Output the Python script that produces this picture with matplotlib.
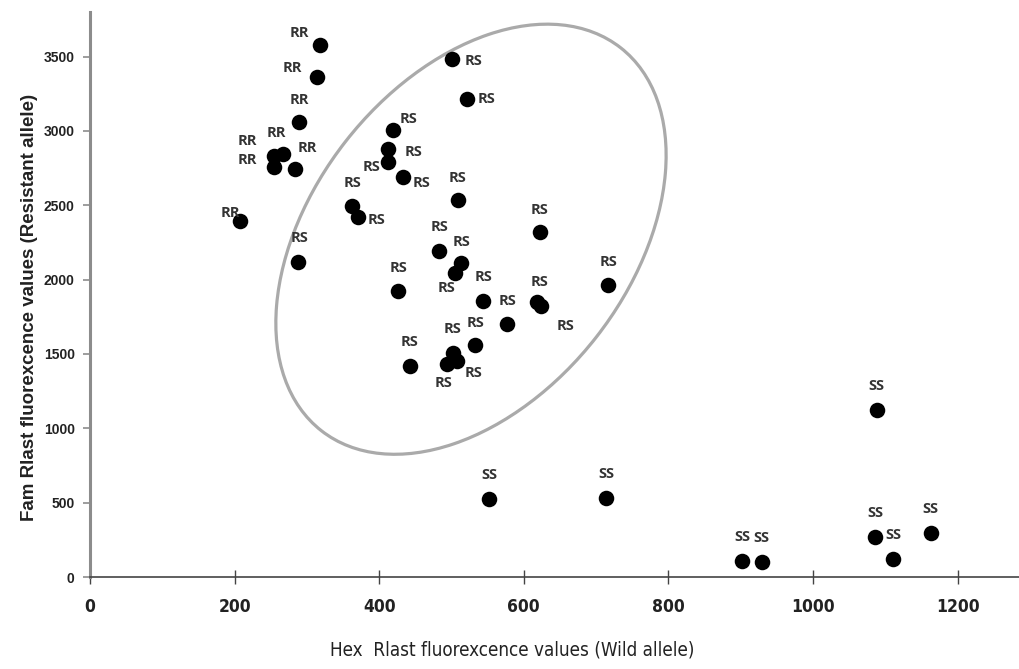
import matplotlib
matplotlib.use("Agg")
import matplotlib.pyplot as plt
import matplotlib.transforms as mtransforms
from matplotlib.patches import Ellipse

# %%
# genotype calls
rr_x = [318, 314, 289, 255, 267, 255, 284, 208]
rr_y = [3580, 3365, 3062, 2833, 2847, 2759, 2746, 2396]

rs_x = [501, 522, 419, 412, 412, 433, 509, 363, 371, 483, 513, 505, 623,
        426, 544, 619, 624, 717, 577, 533, 502, 507, 494, 442, 288]
rs_y = [3486, 3217, 3008, 2880, 2793, 2692, 2537, 2497, 2423, 2194, 2113, 2046, 2322,
        1925, 1857, 1851, 1824, 1965, 1703, 1561, 1507, 1454, 1433, 1420, 2120]

ss_x = [552, 714, 1088, 1086, 1163, 1111, 902, 929]
ss_y = [525, 532, 1124, 269, 296, 121, 108, 101]

x_ticks = [0, 200, 400, 600, 800, 1000, 1200]
y_ticks = [0, 500, 1000, 1500, 2000, 2500, 3000, 3500]

# label offsets (pixels) so the tags sit where they do in the original
rr_off = [(-21, 12), (-25, 9), (0, 22), (-27, 15), (-7, 21), (-27, 7), (12, 21), (-10, 8)]
rs_off = [(21, -2), (19, 0), (16, 11), (26, -3), (-16, -5), (18, -6), (0, 22), (0, 23),
          (18, -3), (0, 24), (1, 21), (-9, -15), (-1, 22), (1, 23), (0, 24), (2, 20),
          (24, -20), (0, 23), (0, 23), (0, 22), (0, 24), (17, -12), (-4, -19), (0, 24), (1, 24)]
ss_off = [(0, 24)] * 8

narrow = ['DejaVu Sans', 'Liberation Sans']

# %%
fig = plt.figure(figsize=(10.19, 6.69), dpi=100)
ax = fig.add_axes([0.0883, 0.1375, 0.9117, 0.8445])

groups = [(rr_x, rr_y, 'RR', rr_off), (rs_x, rs_y, 'RS', rs_off), (ss_x, ss_y, 'SS', ss_off)]
for xs, ys, tag, offs in groups:
    ax.scatter(xs, ys, s=125, color='black', zorder=3, linewidths=0)
    for x, y, o in zip(xs, ys, offs):
        ax.annotate(tag, (x, y), xytext=o, textcoords='offset pixels',
                    ha='center', va='center', fontsize=10.5, fontweight='bold',
                    color='#333333', family=['Open Sans', 'DejaVu Sans'], zorder=4)

ax.set_xlim(0, 1285)
ax.set_ylim(0, 3800)
ax.set_xticks(x_ticks)
ax.set_yticks(y_ticks)

# grey ring round the heterozygotes, sized in pixels
ring_centre = (527, 2272)
ring_tr = mtransforms.ScaledTranslation(ring_centre[0], ring_centre[1], ax.transData)
ring = Ellipse((0, 0), 486, 318, angle=52, fill=False, edgecolor='#aaaaaa',
               linewidth=2.3, transform=ring_tr, zorder=2)
ax.add_patch(ring)

for s in ['top', 'right']:
    ax.spines[s].set_visible(False)
ax.spines['left'].set_color('#8c8c8c')
ax.spines['left'].set_linewidth(2.2)
ax.spines['bottom'].set_color('#444444')
ax.spines['bottom'].set_linewidth(1.2)

ax.tick_params(axis='y', direction='out', length=5, width=1.2, color='#8c8c8c', pad=6)
ax.tick_params(axis='x', direction='inout', length=10, width=1.0, color='#444444', pad=10)

for lab in ax.get_yticklabels():
    lab.set_fontsize(10)
    lab.set_fontweight('bold')
    lab.set_color('#222222')
    lab.set_family(['Liberation Sans', 'DejaVu Sans'])
for lab in ax.get_xticklabels():
    lab.set_fontsize(12.5)
    lab.set_fontweight('bold')
    lab.set_fontstretch('condensed')
    lab.set_color('#222222')
    lab.set_family(narrow)

ax.set_ylabel('Fam Rlast fluorexcence values (Resistant allele)', fontsize=13.5,
              fontweight='bold', color='#222222', family=['Liberation Sans', 'DejaVu Sans'])
ax.yaxis.set_label_coords(-0.056, 0.478)
ax.set_xlabel('Hex  Rlast fluorexcence values (Wild allele)', fontsize=13.5,
              fontstretch='condensed', color='#222222', family=narrow)
ax.xaxis.set_label_coords(0.454, -0.112)

fig.savefig('out.png', dpi=100)
